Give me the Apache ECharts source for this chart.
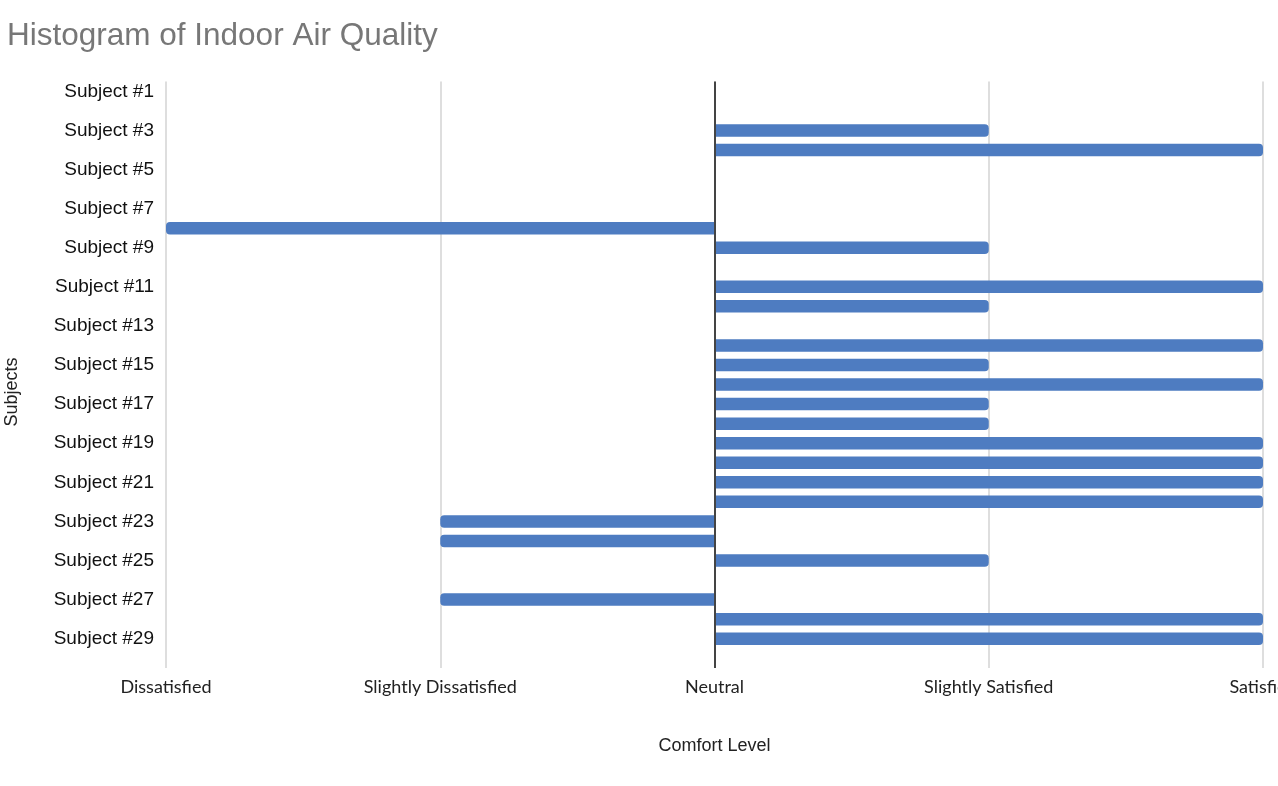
<!DOCTYPE html>
<html>
<head>
<meta charset="utf-8">
<script src="https://cdn.jsdelivr.net/npm/echarts@6/dist/echarts.min.js"></script>
<style>
html,body{margin:0;padding:0;background:#fff;}
#chart{width:1278px;height:786px;}
</style>
</head>
<body>
<div id="chart"></div>
<script>
const subjects = ["Subject #1","Subject #2","Subject #3","Subject #4","Subject #5","Subject #6","Subject #7","Subject #8","Subject #9","Subject #10",
  "Subject #11","Subject #12","Subject #13","Subject #14","Subject #15","Subject #16","Subject #17","Subject #18","Subject #19","Subject #20",
  "Subject #21","Subject #22","Subject #23","Subject #24","Subject #25","Subject #26","Subject #27","Subject #28","Subject #29","Subject #30"];
const comfortValues = [0,0,1,2,0,0,0,-2,1,0, 2,1,0,2,1,2,1,1,2,2, 2,2,-1,-1,1,0,-1,2,2,0];
const levelLabels = ["Dissatisfied","Slightly Dissatisfied","Neutral","Slightly Satisfied","Satisfied"];
const levelValues = [-2,-1,0,1,2];

const chart = echarts.init(document.getElementById('chart'), null, {renderer:'canvas'});
const barColor = '#4e7cc1';
const option = {
  animation: false,
  backgroundColor: '#ffffff',
  title: {
    text: 'Histogram of Indoor Air Quality',
    left: 2, top: 15,
    textStyle: {fontFamily: 'Liberation Sans', fontSize: 31.5, fontWeight: 'normal', color: '#777777'}
  },
  grid: {left: 166, right: 15, top: 81.5, bottom: 118, containLabel: false, outerBoundsMode: 'none'},
  xAxis: {
    type: 'value', min: -2, max: 2, interval: 1,
    name: 'Comfort Level', nameLocation: 'middle', nameGap: 69,
    nameTextStyle: {fontFamily: 'Liberation Sans', fontSize: 18, color: '#222'},
    axisLine: {show: false}, axisTick: {show: false},
    splitLine: {show: true, lineStyle: {color: '#d3d3d3', width: 1.5}},
    axisLabel: {
      margin: 10, fontFamily: 'Lato', fontSize: 18, color: '#222', hideOverlap: false,
      formatter: function (v) { const i = levelValues.indexOf(v); return i >= 0 ? levelLabels[i] : ''; }
    }
  },
  yAxis: {
    type: 'category', data: subjects, inverse: true,
    axisLine: {show: false}, axisTick: {show: false}, splitLine: {show: false},
    axisLabel: {interval: 1, margin: 12, fontFamily: 'Liberation Sans', fontSize: 19, color: '#111', padding: [3, 0, 0, 0]}
  },
  graphic: [{
    type: 'text', x: 12, y: 392, rotation: Math.PI / 2,
    style: {text: 'Subjects', font: '18px "Liberation Sans"', fill: '#222', textAlign: 'center', textVerticalAlign: 'middle'}
  }],
  series: [{
    type: 'bar', barWidth: 12.5,
    data: comfortValues.map(v => ({
      value: v,
      itemStyle: {color: barColor, borderRadius: v >= 0 ? [0, 4, 4, 0] : [4, 0, 0, 4]}
    })),
    markLine: {
      silent: true, symbol: 'none', label: {show: false},
      lineStyle: {color: '#444', width: 2, type: 'solid'},
      data: [{xAxis: 0}]
    }
  }]
};
chart.setOption(option);
</script>
</body>
</html>
